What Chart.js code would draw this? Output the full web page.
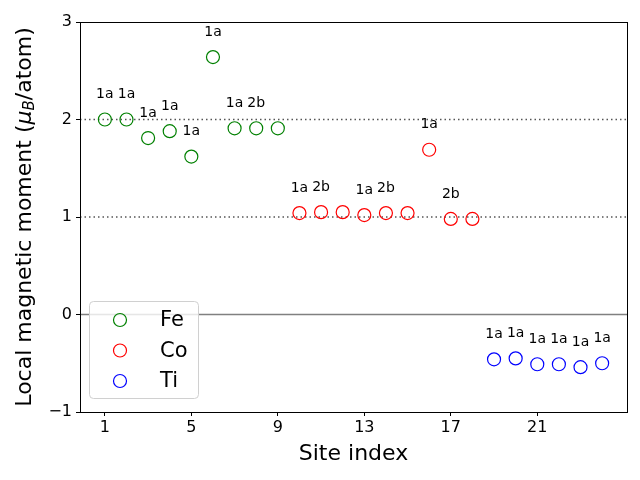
<!DOCTYPE html>
<html>
<head>
<meta charset="utf-8">
<script src="https://cdn.jsdelivr.net/npm/chart.js@4/dist/chart.umd.min.js"></script>
<style>
  html, body { margin: 0; padding: 0; background: #fff; }
  #wrap { width: 640px; height: 480px; }
</style>
</head>
<body>
<div id="wrap"><canvas id="moments" width="640" height="480"></canvas></div>
<script>
// site index -> local moment
const feSites = [1, 2, 3, 4, 5, 6, 7, 8, 9];
const feMoments = [2.00, 2.00, 1.81, 1.88, 1.62, 2.64, 1.91, 1.91, 1.91];
const feLabels = ['1a', '1a', '1a', '1a', '1a', '1a', '1a', '2b', ''];

const coSites = [10, 11, 12, 13, 14, 15, 16, 17, 18];
const coMoments = [1.04, 1.05, 1.05, 1.02, 1.04, 1.04, 1.69, 0.98, 0.98];
const coLabels = ['1a', '2b', '', '1a', '2b', '', '1a', '2b', ''];

const tiSites = [19, 20, 21, 22, 23, 24];
const tiMoments = [-0.46, -0.45, -0.51, -0.51, -0.54, -0.50];
const tiLabels = ['1a', '1a', '1a', '1a', '1a', '1a'];

const xTicks = [1, 5, 9, 13, 17, 21];
const refLines = [
  { y: 2, dash: [1.5, 3], color: '#555', width: 1.5 },
  { y: 1, dash: [1.5, 3], color: '#555', width: 1.5 },
  { y: 0, dash: [], color: '#808080', width: 1.5 }
];

const FONT = "'DejaVu Sans', sans-serif";

function toPoints(xs, ys) {
  return xs.map((x, i) => ({ x: x, y: ys[i] }));
}

function makeSet(label, xs, ys, color, siteLabels) {
  return {
    label: label,
    data: toPoints(xs, ys),
    siteLabels: siteLabels,
    borderColor: color,
    backgroundColor: 'rgba(0,0,0,0)',
    pointRadius: 6.5,
    pointBorderWidth: 1.2,
    showLine: false
  };
}

const frameAndLines = {
  id: 'frameAndLines',
  beforeDatasetsDraw(chart) {
    const { ctx, chartArea: a, scales } = chart;
    ctx.save();
    refLines.forEach(r => {
      const py = scales.y.getPixelForValue(r.y);
      ctx.beginPath();
      ctx.setLineDash(r.dash);
      ctx.strokeStyle = r.color;
      ctx.lineWidth = r.width;
      ctx.moveTo(a.left, py);
      ctx.lineTo(a.right, py);
      ctx.stroke();
    });
    ctx.restore();
  },
  afterDatasetsDraw(chart) {
    const { ctx } = chart;
    ctx.save();
    ctx.fillStyle = '#000';
    ctx.font = '14px ' + FONT;
    ctx.textAlign = 'center';
    ctx.textBaseline = 'middle';
    chart.data.datasets.forEach((ds, di) => {
      const meta = chart.getDatasetMeta(di);
      meta.data.forEach((pt, i) => {
        const t = ds.siteLabels[i];
        if (t) ctx.fillText(t, pt.x, pt.y - 25);
      });
    });
    ctx.restore();
  },
  afterDraw(chart) {
    const { ctx, chartArea: a } = chart;
    ctx.save();
    // box frame
    ctx.strokeStyle = '#000';
    ctx.lineWidth = 1;
    ctx.strokeRect(a.left + 0.5, a.top + 0.5, a.right - a.left, a.bottom - a.top);

    // legend
    const lx = a.left + 9, ly = a.top + 279, lw = 109, lh = 97;
    ctx.beginPath();
    ctx.roundRect(lx + 0.5, ly + 0.5, lw, lh, 4);
    ctx.fillStyle = 'rgba(255,255,255,0.8)';
    ctx.fill();
    ctx.strokeStyle = '#d0d0d0';
    ctx.stroke();
    ctx.font = '21px ' + FONT;
    ctx.textBaseline = 'middle';
    ctx.textAlign = 'left';
    chart.data.datasets.forEach((ds, i) => {
      const cy = ly + 19 + i * 30.5;
      ctx.beginPath();
      ctx.arc(lx + 31, cy, 6.5, 0, Math.PI * 2);
      ctx.strokeStyle = ds.borderColor;
      ctx.lineWidth = 1.2;
      ctx.stroke();
      ctx.fillStyle = '#000';
      ctx.fillText(ds.label, lx + 71, cy + 1);
    });

    // x title
    ctx.font = '22px ' + FONT;
    ctx.textAlign = 'center';
    ctx.fillStyle = '#000';
    ctx.fillText('Site index', (a.left + a.right) / 2, a.bottom + 42);

    // y title with subscript
    ctx.translate(25, (a.top + a.bottom) / 2);
    ctx.rotate(-Math.PI / 2);
    ctx.textBaseline = 'middle';
    const parts = [
      { t: 'Local magnetic moment (', f: '22px ' + FONT, dy: 0 },
      { t: 'μ', f: 'italic 22px ' + FONT, dy: 0 },
      { t: 'B', f: 'italic 15px ' + FONT, dy: 5 },
      { t: '/atom)', f: '22px ' + FONT, dy: 0 }
    ];
    let total = 0;
    parts.forEach(p => { ctx.font = p.f; p.w = ctx.measureText(p.t).width; total += p.w; });
    let x = -total / 2;
    ctx.textAlign = 'left';
    parts.forEach(p => {
      ctx.font = p.f;
      ctx.fillText(p.t, x, p.dy);
      x += p.w;
    });
    ctx.restore();
  }
};

const ctx = document.getElementById('moments').getContext('2d');
const chart = new Chart(ctx, {
  type: 'scatter',
  data: {
    datasets: [
      makeSet('Fe', feSites, feMoments, '#008000', feLabels),
      makeSet('Co', coSites, coMoments, '#ff0000', coLabels),
      makeSet('Ti', tiSites, tiMoments, '#0000ff', tiLabels)
    ]
  },
  options: {
    responsive: false,
    animation: false,
    devicePixelRatio: 1,
    layout: { padding: { top: 22, right: 13, left: 0, bottom: 0 } },
    plugins: { legend: { display: false }, tooltip: { enabled: false } },
    scales: {
      x: {
        type: 'linear',
        min: -0.15,
        max: 25.15,
        afterBuildTicks(axis) { axis.ticks = xTicks.map(v => ({ value: v })); },
        afterFit(axis) { axis.height = 68; },
        grid: { drawOnChartArea: false, drawTicks: true, tickLength: 4, color: '#000' },
        border: { display: false },
        ticks: { color: '#000', font: { family: FONT, size: 16 }, padding: 2, maxRotation: 0 },
        title: { display: false }
      },
      y: {
        min: -1,
        max: 3,
        afterFit(axis) { axis.width = 80; },
        grid: { drawOnChartArea: false, drawTicks: true, tickLength: 4, color: '#000' },
        border: { display: false },
        ticks: { stepSize: 1, color: '#000', font: { family: FONT, size: 16 }, padding: 4,
                 callback: v => (v < 0 ? '\u2212' + Math.abs(v) : String(v)) }
      }
    }
  },
  plugins: [frameAndLines]
});
</script>
</body>
</html>
